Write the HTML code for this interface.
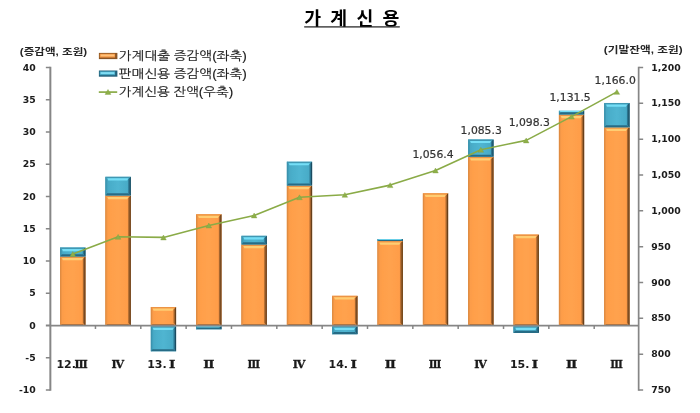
<!DOCTYPE html>
<html lang="ko">
<head>
<meta charset="utf-8">
<title>가계신용</title>
<style>
html,body{margin:0;padding:0;background:#fff;}
body{width:700px;height:413px;overflow:hidden;}
svg{display:block;}
.num{font-family:"DejaVu Sans","Liberation Sans",sans-serif;font-weight:bold;font-size:9.3px;fill:#1a1a1a;}
.cat{font-family:"DejaVu Sans","Liberation Sans",sans-serif;font-weight:bold;font-size:11px;fill:#1a1a1a;}
.rom{font-family:"DejaVu Serif","Liberation Serif",serif;font-weight:bold;stroke:#1a1a1a;stroke-width:0.3px;}
.dl{font-family:"DejaVu Sans","Liberation Sans",sans-serif;font-size:10.2px;fill:#333;stroke:#333;stroke-width:0.2px;}
.ko{font-family:"Liberation Sans","NanumGothic","Noto Sans CJK KR",sans-serif;fill:#1a1a1a;stroke:#1a1a1a;stroke-width:0.15px;}
.kot{font-family:"Liberation Sans","Noto Sans CJK KR","NanumGothic",sans-serif;font-weight:bold;fill:#000;}
.kob{font-family:"Liberation Sans","Noto Sans CJK KR","NanumGothic",sans-serif;font-weight:bold;fill:#262626;}
</style>
</head>
<body>
<svg width="700" height="413" viewBox="0 0 700 413">
<defs>
<linearGradient id="go" x1="0" y1="0" x2="1" y2="0">
<stop offset="0" stop-color="#f99a47"/><stop offset="0.2" stop-color="#ff9f4a"/><stop offset="0.5" stop-color="#ffa24e"/><stop offset="0.85" stop-color="#ff9d49"/><stop offset="1" stop-color="#ee8f40"/>
</linearGradient>
<linearGradient id="gb" x1="0" y1="0" x2="1" y2="0">
<stop offset="0" stop-color="#43a3bf"/><stop offset="0.2" stop-color="#4aaeca"/><stop offset="0.5" stop-color="#50b5d1"/><stop offset="0.85" stop-color="#49acc8"/><stop offset="1" stop-color="#409cb7"/>
</linearGradient>
</defs>
<filter id="soft" x="0" y="0" width="700" height="413" filterUnits="userSpaceOnUse"><feGaussianBlur stdDeviation="0.45"/></filter>
<rect width="700" height="413" fill="#ffffff"/>
<g filter="url(#soft)">

<text class="kot" x="304.2" y="25.0" font-size="18.3" textLength="95.2" lengthAdjust="spacing" xml:space="preserve">가 계 신 용</text>
<rect x="304.2" y="26.3" width="95.6" height="1.2" fill="#1a1a1a"/>
<rect x="60.19" y="256.49" width="25.2" height="69.01" fill="url(#go)"/>
<path d="M60.19 256.49L61.89 258.88V323.10L60.19 325.50Z" fill="#ee9445"/>
<path d="M85.39 256.49L82.89 258.88V323.10L85.39 325.50Z" fill="#a5652e"/>
<path d="M85.39 256.49L84.29 257.56V324.42L85.39 325.50Z" fill="#66401b"/>
<rect x="60.19" y="256.49" width="0.5" height="69.01" fill="#cf7f38"/>
<path d="M60.19 325.50L61.89 324.20H82.89L85.39 325.50Z" fill="#a05f28"/>
<path d="M60.19 256.49L61.89 257.99H82.89L85.39 256.49Z" fill="#ec9445"/>
<path d="M61.99 257.99L62.89 260.19H81.89L83.19 257.99Z" fill="#ffcd72"/>
<rect x="60.19" y="247.45" width="25.2" height="9.03" fill="url(#gb)"/>
<path d="M60.19 247.45L61.89 249.85V254.09L60.19 256.49Z" fill="#3f9ab6"/>
<path d="M85.39 247.45L82.89 249.85V254.09L85.39 256.49Z" fill="#2c7590"/>
<path d="M85.39 247.45L84.29 248.53V255.41L85.39 256.49Z" fill="#1b4c60"/>
<rect x="60.19" y="247.45" width="0.5" height="9.03" fill="#358aa4"/>
<path d="M60.19 256.49L61.89 254.33H82.89L85.39 256.49Z" fill="#286c86"/>
<path d="M60.19 247.45L61.89 248.95H82.89L85.39 247.45Z" fill="#3f98b3"/>
<path d="M61.99 248.95L62.89 251.15H81.89L83.19 248.95Z" fill="#74def6"/>
<rect x="105.53" y="195.53" width="25.2" height="129.97" fill="url(#go)"/>
<path d="M105.53 195.53L107.23 197.93V323.10L105.53 325.50Z" fill="#ee9445"/>
<path d="M130.73 195.53L128.23 197.93V323.10L130.73 325.50Z" fill="#a5652e"/>
<path d="M130.73 195.53L129.63 196.61V324.42L130.73 325.50Z" fill="#66401b"/>
<rect x="105.53" y="195.53" width="0.5" height="129.97" fill="#cf7f38"/>
<path d="M105.53 325.50L107.23 324.20H128.23L130.73 325.50Z" fill="#a05f28"/>
<path d="M105.53 195.53L107.23 197.03H128.23L130.73 195.53Z" fill="#ec9445"/>
<path d="M107.33 197.03L108.23 199.23H127.23L128.53 197.03Z" fill="#ffcd72"/>
<rect x="105.53" y="176.83" width="25.2" height="18.70" fill="url(#gb)"/>
<path d="M105.53 176.83L107.23 179.23V193.13L105.53 195.53Z" fill="#3f9ab6"/>
<path d="M130.73 176.83L128.23 179.23V193.13L130.73 195.53Z" fill="#2c7590"/>
<path d="M130.73 176.83L129.63 177.91V194.45L130.73 195.53Z" fill="#1b4c60"/>
<rect x="105.53" y="176.83" width="0.5" height="18.70" fill="#358aa4"/>
<path d="M105.53 195.53L107.23 193.37H128.23L130.73 195.53Z" fill="#286c86"/>
<path d="M105.53 176.83L107.23 178.33H128.23L130.73 176.83Z" fill="#3f98b3"/>
<path d="M107.33 178.33L108.23 180.53H127.23L128.53 178.33Z" fill="#74def6"/>
<rect x="150.87" y="306.99" width="25.2" height="18.51" fill="url(#go)"/>
<path d="M150.87 306.99L152.57 309.39V323.10L150.87 325.50Z" fill="#ee9445"/>
<path d="M176.07 306.99L173.57 309.39V323.10L176.07 325.50Z" fill="#a5652e"/>
<path d="M176.07 306.99L174.97 308.07V324.42L176.07 325.50Z" fill="#66401b"/>
<rect x="150.87" y="306.99" width="0.5" height="18.51" fill="#cf7f38"/>
<path d="M150.87 325.50L152.57 324.20H173.57L176.07 325.50Z" fill="#a05f28"/>
<path d="M150.87 306.99L152.57 308.49H173.57L176.07 306.99Z" fill="#ec9445"/>
<path d="M152.67 308.49L153.57 310.69H172.57L173.87 308.49Z" fill="#ffcd72"/>
<rect x="150.87" y="326.20" width="25.2" height="25.10" fill="url(#gb)"/>
<path d="M150.87 326.20L152.57 328.60V348.90L150.87 351.30Z" fill="#3f9ab6"/>
<path d="M176.07 326.20L173.57 328.60V348.90L176.07 351.30Z" fill="#2c7590"/>
<path d="M176.07 326.20L174.97 327.28V350.22L176.07 351.30Z" fill="#1b4c60"/>
<rect x="150.87" y="326.20" width="0.5" height="25.10" fill="#358aa4"/>
<path d="M150.87 351.30L152.57 349.14H173.57L176.07 351.30Z" fill="#286c86"/>
<path d="M150.87 326.20L152.57 327.70H173.57L176.07 326.20Z" fill="#3f98b3"/>
<path d="M152.67 327.70L153.57 329.90H172.57L173.87 327.70Z" fill="#74def6"/>
<rect x="196.21" y="214.24" width="25.2" height="111.26" fill="url(#go)"/>
<path d="M196.21 214.24L197.91 216.64V323.10L196.21 325.50Z" fill="#ee9445"/>
<path d="M221.41 214.24L218.91 216.64V323.10L221.41 325.50Z" fill="#a5652e"/>
<path d="M221.41 214.24L220.31 215.32V324.42L221.41 325.50Z" fill="#66401b"/>
<rect x="196.21" y="214.24" width="0.5" height="111.26" fill="#cf7f38"/>
<path d="M196.21 325.50L197.91 324.20H218.91L221.41 325.50Z" fill="#a05f28"/>
<path d="M196.21 214.24L197.91 215.74H218.91L221.41 214.24Z" fill="#ec9445"/>
<path d="M198.01 215.74L198.91 217.94H217.91L219.21 215.74Z" fill="#ffcd72"/>
<rect x="196.21" y="326.20" width="25.2" height="3.17" fill="url(#gb)"/>
<path d="M196.21 326.20L197.91 327.63V327.94L196.21 329.37Z" fill="#3f9ab6"/>
<path d="M221.41 326.20L218.91 327.63V327.94L221.41 329.37Z" fill="#2c7590"/>
<path d="M221.41 326.20L220.31 326.84V328.73L221.41 329.37Z" fill="#1b4c60"/>
<rect x="196.21" y="326.20" width="0.5" height="3.17" fill="#358aa4"/>
<path d="M196.21 329.37L197.91 327.47H218.91L221.41 329.37Z" fill="#286c86"/>
<path d="M196.21 326.20L197.91 327.15H218.91L221.41 326.20Z" fill="#74def6"/>
<rect x="241.55" y="244.49" width="25.2" height="81.01" fill="url(#go)"/>
<path d="M241.55 244.49L243.25 246.89V323.10L241.55 325.50Z" fill="#ee9445"/>
<path d="M266.75 244.49L264.25 246.89V323.10L266.75 325.50Z" fill="#a5652e"/>
<path d="M266.75 244.49L265.65 245.57V324.42L266.75 325.50Z" fill="#66401b"/>
<rect x="241.55" y="244.49" width="0.5" height="81.01" fill="#cf7f38"/>
<path d="M241.55 325.50L243.25 324.20H264.25L266.75 325.50Z" fill="#a05f28"/>
<path d="M241.55 244.49L243.25 245.99H264.25L266.75 244.49Z" fill="#ec9445"/>
<path d="M243.35 245.99L244.25 248.19H263.25L264.55 245.99Z" fill="#ffcd72"/>
<rect x="241.55" y="235.84" width="25.2" height="8.64" fill="url(#gb)"/>
<path d="M241.55 235.84L243.25 238.25V242.09L241.55 244.49Z" fill="#3f9ab6"/>
<path d="M266.75 235.84L264.25 238.25V242.09L266.75 244.49Z" fill="#2c7590"/>
<path d="M266.75 235.84L265.65 236.93V243.41L266.75 244.49Z" fill="#1b4c60"/>
<rect x="241.55" y="235.84" width="0.5" height="8.64" fill="#358aa4"/>
<path d="M241.55 244.49L243.25 242.33H264.25L266.75 244.49Z" fill="#286c86"/>
<path d="M241.55 235.84L243.25 237.34H264.25L266.75 235.84Z" fill="#3f98b3"/>
<path d="M243.35 237.34L244.25 239.54H263.25L264.55 237.34Z" fill="#74def6"/>
<rect x="286.89" y="185.53" width="25.2" height="139.97" fill="url(#go)"/>
<path d="M286.89 185.53L288.59 187.94V323.10L286.89 325.50Z" fill="#ee9445"/>
<path d="M312.09 185.53L309.59 187.94V323.10L312.09 325.50Z" fill="#a5652e"/>
<path d="M312.09 185.53L310.99 186.62V324.42L312.09 325.50Z" fill="#66401b"/>
<rect x="286.89" y="185.53" width="0.5" height="139.97" fill="#cf7f38"/>
<path d="M286.89 325.50L288.59 324.20H309.59L312.09 325.50Z" fill="#a05f28"/>
<path d="M286.89 185.53L288.59 187.03H309.59L312.09 185.53Z" fill="#ec9445"/>
<path d="M288.69 187.03L289.59 189.23H308.59L309.89 187.03Z" fill="#ffcd72"/>
<rect x="286.89" y="161.67" width="25.2" height="23.86" fill="url(#gb)"/>
<path d="M286.89 161.67L288.59 164.07V183.13L286.89 185.53Z" fill="#3f9ab6"/>
<path d="M312.09 161.67L309.59 164.07V183.13L312.09 185.53Z" fill="#2c7590"/>
<path d="M312.09 161.67L310.99 162.75V184.45L312.09 185.53Z" fill="#1b4c60"/>
<rect x="286.89" y="161.67" width="0.5" height="23.86" fill="#358aa4"/>
<path d="M286.89 185.53L288.59 183.38H309.59L312.09 185.53Z" fill="#286c86"/>
<path d="M286.89 161.67L288.59 163.17H309.59L312.09 161.67Z" fill="#3f98b3"/>
<path d="M288.69 163.17L289.59 165.37H308.59L309.89 163.17Z" fill="#74def6"/>
<rect x="332.23" y="295.83" width="25.2" height="29.67" fill="url(#go)"/>
<path d="M332.23 295.83L333.93 298.23V323.10L332.23 325.50Z" fill="#ee9445"/>
<path d="M357.43 295.83L354.93 298.23V323.10L357.43 325.50Z" fill="#a5652e"/>
<path d="M357.43 295.83L356.33 296.91V324.42L357.43 325.50Z" fill="#66401b"/>
<rect x="332.23" y="295.83" width="0.5" height="29.67" fill="#cf7f38"/>
<path d="M332.23 325.50L333.93 324.20H354.93L357.43 325.50Z" fill="#a05f28"/>
<path d="M332.23 295.83L333.93 297.33H354.93L357.43 295.83Z" fill="#ec9445"/>
<path d="M334.03 297.33L334.93 299.53H353.93L355.23 297.33Z" fill="#ffcd72"/>
<rect x="332.23" y="326.20" width="25.2" height="8.07" fill="url(#gb)"/>
<path d="M332.23 326.20L333.93 328.60V331.87L332.23 334.27Z" fill="#3f9ab6"/>
<path d="M357.43 326.20L354.93 328.60V331.87L357.43 334.27Z" fill="#2c7590"/>
<path d="M357.43 326.20L356.33 327.28V333.19L357.43 334.27Z" fill="#1b4c60"/>
<rect x="332.23" y="326.20" width="0.5" height="8.07" fill="#358aa4"/>
<path d="M332.23 334.27L333.93 332.11H354.93L357.43 334.27Z" fill="#286c86"/>
<path d="M332.23 326.20L333.93 327.70H354.93L357.43 326.20Z" fill="#3f98b3"/>
<path d="M334.03 327.70L334.93 329.90H353.93L355.23 327.70Z" fill="#74def6"/>
<rect x="377.57" y="241.00" width="25.2" height="84.50" fill="url(#go)"/>
<path d="M377.57 241.00L379.27 243.41V323.10L377.57 325.50Z" fill="#ee9445"/>
<path d="M402.77 241.00L400.27 243.41V323.10L402.77 325.50Z" fill="#a5652e"/>
<path d="M402.77 241.00L401.67 242.09V324.42L402.77 325.50Z" fill="#66401b"/>
<rect x="377.57" y="241.00" width="0.5" height="84.50" fill="#cf7f38"/>
<path d="M377.57 325.50L379.27 324.20H400.27L402.77 325.50Z" fill="#a05f28"/>
<path d="M377.57 241.00L379.27 242.50H400.27L402.77 241.00Z" fill="#ec9445"/>
<path d="M379.37 242.50L380.27 244.70H399.27L400.57 242.50Z" fill="#ffcd72"/>
<rect x="377.57" y="239.07" width="25.2" height="1.94" fill="url(#gb)"/>
<path d="M377.57 239.07L379.27 239.94V240.13L377.57 241.00Z" fill="#3f9ab6"/>
<path d="M402.77 239.07L400.27 239.94V240.13L402.77 241.00Z" fill="#2c7590"/>
<path d="M402.77 239.07L401.67 239.46V240.61L402.77 241.00Z" fill="#1b4c60"/>
<rect x="377.57" y="239.07" width="0.5" height="1.94" fill="#358aa4"/>
<path d="M377.57 241.00L379.27 239.84H400.27L402.77 241.00Z" fill="#286c86"/>
<path d="M377.57 239.07L379.27 239.65H400.27L402.77 239.07Z" fill="#74def6"/>
<rect x="422.91" y="193.28" width="25.2" height="132.22" fill="url(#go)"/>
<path d="M422.91 193.28L424.61 195.68V323.10L422.91 325.50Z" fill="#ee9445"/>
<path d="M448.11 193.28L445.61 195.68V323.10L448.11 325.50Z" fill="#a5652e"/>
<path d="M448.11 193.28L447.01 194.36V324.42L448.11 325.50Z" fill="#66401b"/>
<rect x="422.91" y="193.28" width="0.5" height="132.22" fill="#cf7f38"/>
<path d="M422.91 325.50L424.61 324.20H445.61L448.11 325.50Z" fill="#a05f28"/>
<path d="M422.91 193.28L424.61 194.78H445.61L448.11 193.28Z" fill="#ec9445"/>
<path d="M424.71 194.78L425.61 196.97H444.61L445.91 194.78Z" fill="#ffcd72"/>
<rect x="468.25" y="156.83" width="25.2" height="168.67" fill="url(#go)"/>
<path d="M468.25 156.83L469.95 159.23V323.10L468.25 325.50Z" fill="#ee9445"/>
<path d="M493.45 156.83L490.95 159.23V323.10L493.45 325.50Z" fill="#a5652e"/>
<path d="M493.45 156.83L492.35 157.91V324.42L493.45 325.50Z" fill="#66401b"/>
<rect x="468.25" y="156.83" width="0.5" height="168.67" fill="#cf7f38"/>
<path d="M468.25 325.50L469.95 324.20H490.95L493.45 325.50Z" fill="#a05f28"/>
<path d="M468.25 156.83L469.95 158.33H490.95L493.45 156.83Z" fill="#ec9445"/>
<path d="M470.05 158.33L470.95 160.53H489.95L491.25 158.33Z" fill="#ffcd72"/>
<rect x="468.25" y="139.42" width="25.2" height="17.41" fill="url(#gb)"/>
<path d="M468.25 139.42L469.95 141.82V154.43L468.25 156.83Z" fill="#3f9ab6"/>
<path d="M493.45 139.42L490.95 141.82V154.43L493.45 156.83Z" fill="#2c7590"/>
<path d="M493.45 139.42L492.35 140.50V155.75L493.45 156.83Z" fill="#1b4c60"/>
<rect x="468.25" y="139.42" width="0.5" height="17.41" fill="#358aa4"/>
<path d="M468.25 156.83L469.95 154.67H490.95L493.45 156.83Z" fill="#286c86"/>
<path d="M468.25 139.42L469.95 140.92H490.95L493.45 139.42Z" fill="#3f98b3"/>
<path d="M470.05 140.92L470.95 143.12H489.95L491.25 140.92Z" fill="#74def6"/>
<rect x="513.59" y="234.56" width="25.2" height="90.94" fill="url(#go)"/>
<path d="M513.59 234.56L515.29 236.96V323.10L513.59 325.50Z" fill="#ee9445"/>
<path d="M538.79 234.56L536.29 236.96V323.10L538.79 325.50Z" fill="#a5652e"/>
<path d="M538.79 234.56L537.69 235.64V324.42L538.79 325.50Z" fill="#66401b"/>
<rect x="513.59" y="234.56" width="0.5" height="90.94" fill="#cf7f38"/>
<path d="M513.59 325.50L515.29 324.20H536.29L538.79 325.50Z" fill="#a05f28"/>
<path d="M513.59 234.56L515.29 236.06H536.29L538.79 234.56Z" fill="#ec9445"/>
<path d="M515.39 236.06L516.29 238.25H535.29L536.59 236.06Z" fill="#ffcd72"/>
<rect x="513.59" y="326.20" width="25.2" height="6.78" fill="url(#gb)"/>
<path d="M513.59 326.20L515.29 328.60V330.58L513.59 332.98Z" fill="#3f9ab6"/>
<path d="M538.79 326.20L536.29 328.60V330.58L538.79 332.98Z" fill="#2c7590"/>
<path d="M538.79 326.20L537.69 327.28V331.90L538.79 332.98Z" fill="#1b4c60"/>
<rect x="513.59" y="326.20" width="0.5" height="6.78" fill="#358aa4"/>
<path d="M513.59 332.98L515.29 330.82H536.29L538.79 332.98Z" fill="#286c86"/>
<path d="M513.59 326.20L515.29 327.70H536.29L538.79 326.20Z" fill="#3f98b3"/>
<path d="M515.39 327.70L516.29 329.90H535.29L536.59 327.70Z" fill="#74def6"/>
<rect x="558.93" y="114.58" width="25.2" height="210.92" fill="url(#go)"/>
<path d="M558.93 114.58L560.63 116.98V323.10L558.93 325.50Z" fill="#ee9445"/>
<path d="M584.13 114.58L581.63 116.98V323.10L584.13 325.50Z" fill="#a5652e"/>
<path d="M584.13 114.58L583.03 115.66V324.42L584.13 325.50Z" fill="#66401b"/>
<rect x="558.93" y="114.58" width="0.5" height="210.92" fill="#cf7f38"/>
<path d="M558.93 325.50L560.63 324.20H581.63L584.13 325.50Z" fill="#a05f28"/>
<path d="M558.93 114.58L560.63 116.08H581.63L584.13 114.58Z" fill="#ec9445"/>
<path d="M560.73 116.08L561.63 118.28H580.63L581.93 116.08Z" fill="#ffcd72"/>
<rect x="558.93" y="110.71" width="25.2" height="3.87" fill="url(#gb)"/>
<path d="M558.93 110.71L560.63 112.46V112.84L558.93 114.58Z" fill="#3f9ab6"/>
<path d="M584.13 110.71L581.63 112.46V112.84L584.13 114.58Z" fill="#2c7590"/>
<path d="M584.13 110.71L583.03 111.50V113.80L584.13 114.58Z" fill="#1b4c60"/>
<rect x="558.93" y="110.71" width="0.5" height="3.87" fill="#358aa4"/>
<path d="M558.93 114.58L560.63 112.26H581.63L584.13 114.58Z" fill="#286c86"/>
<path d="M558.93 110.71L560.63 111.88H581.63L584.13 110.71Z" fill="#74def6"/>
<rect x="604.27" y="127.36" width="25.2" height="198.14" fill="url(#go)"/>
<path d="M604.27 127.36L605.97 129.76V323.10L604.27 325.50Z" fill="#ee9445"/>
<path d="M629.47 127.36L626.97 129.76V323.10L629.47 325.50Z" fill="#a5652e"/>
<path d="M629.47 127.36L628.37 128.44V324.42L629.47 325.50Z" fill="#66401b"/>
<rect x="604.27" y="127.36" width="0.5" height="198.14" fill="#cf7f38"/>
<path d="M604.27 325.50L605.97 324.20H626.97L629.47 325.50Z" fill="#a05f28"/>
<path d="M604.27 127.36L605.97 128.86H626.97L629.47 127.36Z" fill="#ec9445"/>
<path d="M606.07 128.86L606.97 131.06H625.97L627.27 128.86Z" fill="#ffcd72"/>
<rect x="604.27" y="102.97" width="25.2" height="24.38" fill="url(#gb)"/>
<path d="M604.27 102.97L605.97 105.38V124.96L604.27 127.36Z" fill="#3f9ab6"/>
<path d="M629.47 102.97L626.97 105.38V124.96L629.47 127.36Z" fill="#2c7590"/>
<path d="M629.47 102.97L628.37 104.05V126.28L629.47 127.36Z" fill="#1b4c60"/>
<rect x="604.27" y="102.97" width="0.5" height="24.38" fill="#358aa4"/>
<path d="M604.27 127.36L605.97 125.20H626.97L629.47 127.36Z" fill="#286c86"/>
<path d="M604.27 102.97L605.97 104.47H626.97L629.47 102.97Z" fill="#3f98b3"/>
<path d="M606.07 104.47L606.97 106.67H625.97L627.27 104.47Z" fill="#74def6"/>
<g stroke="#868686" stroke-width="2.0" fill="none">
<path d="M45.85 325.50H50.35"/>
<path d="M50.35 325.60H638.65" stroke-width="1.6"/>
<path d="M50.35 66.70V390.80"/>
<path d="M638.65 66.70V390.80" stroke-width="1.7"/>
<path d="M45.85 67.50H50.35M45.85 99.75H50.35M45.85 132.00H50.35M45.85 164.25H50.35M45.85 196.50H50.35M45.85 228.75H50.35M45.85 261.00H50.35M45.85 293.25H50.35M45.85 357.75H50.35M45.85 390.00H50.35M638.65 67.50H643.15M638.65 103.33H643.15M638.65 139.17H643.15M638.65 175.00H643.15M638.65 210.83H643.15M638.65 246.67H643.15M638.65 282.50H643.15M638.65 318.33H643.15M638.65 354.17H643.15M638.65 390.00H643.15M95.46 325.50V329.00M140.80 325.50V329.00M186.14 325.50V329.00M231.48 325.50V329.00M276.82 325.50V329.00M322.16 325.50V329.00M367.50 325.50V329.00M412.84 325.50V329.00M458.18 325.50V329.00M503.52 325.50V329.00M548.86 325.50V329.00M594.20 325.50V329.00" stroke-width="1.5"/>
</g>
<text class="num" x="35.7" y="70.65" text-anchor="end">40</text>
<text class="num" x="35.7" y="102.90" text-anchor="end">35</text>
<text class="num" x="35.7" y="135.15" text-anchor="end">30</text>
<text class="num" x="35.7" y="167.40" text-anchor="end">25</text>
<text class="num" x="35.7" y="199.65" text-anchor="end">20</text>
<text class="num" x="35.7" y="231.90" text-anchor="end">15</text>
<text class="num" x="35.7" y="264.15" text-anchor="end">10</text>
<text class="num" x="35.7" y="296.40" text-anchor="end">5</text>
<text class="num" x="35.7" y="328.65" text-anchor="end">0</text>
<text class="num" x="35.7" y="360.90" text-anchor="end">-5</text>
<text class="num" x="35.7" y="393.15" text-anchor="end">-10</text>
<text class="num" x="651.2" y="70.65">1,200</text>
<text class="num" x="651.2" y="106.48">1,150</text>
<text class="num" x="651.2" y="142.32">1,100</text>
<text class="num" x="651.2" y="178.15">1,050</text>
<text class="num" x="651.2" y="213.98">1,000</text>
<text class="num" x="651.2" y="249.82">950</text>
<text class="num" x="651.2" y="285.65">900</text>
<text class="num" x="651.2" y="321.48">850</text>
<text class="num" x="651.2" y="357.32">800</text>
<text class="num" x="651.2" y="393.15">750</text>
<text class="cat" x="56.39" y="368.1">12.</text>
<text class="cat rom" x="74.49" y="368.1" textLength="13.2" lengthAdjust="spacingAndGlyphs">Ⅲ</text>
<text class="cat rom" x="111.53" y="368.1" textLength="12.6" lengthAdjust="spacingAndGlyphs">Ⅳ</text>
<text class="cat" x="147.17" y="368.1">13.</text>
<text class="cat rom" x="169.07" y="368.1" textLength="6.4" lengthAdjust="spacingAndGlyphs">Ⅰ</text>
<text class="cat rom" x="203.31" y="368.1" textLength="11.2" lengthAdjust="spacingAndGlyphs">Ⅱ</text>
<text class="cat rom" x="247.45" y="368.1" textLength="12.6" lengthAdjust="spacingAndGlyphs">Ⅲ</text>
<text class="cat rom" x="292.89" y="368.1" textLength="12.6" lengthAdjust="spacingAndGlyphs">Ⅳ</text>
<text class="cat" x="328.53" y="368.1">14.</text>
<text class="cat rom" x="350.43" y="368.1" textLength="6.4" lengthAdjust="spacingAndGlyphs">Ⅰ</text>
<text class="cat rom" x="384.67" y="368.1" textLength="11.2" lengthAdjust="spacingAndGlyphs">Ⅱ</text>
<text class="cat rom" x="428.81" y="368.1" textLength="12.6" lengthAdjust="spacingAndGlyphs">Ⅲ</text>
<text class="cat rom" x="474.25" y="368.1" textLength="12.6" lengthAdjust="spacingAndGlyphs">Ⅳ</text>
<text class="cat" x="509.89" y="368.1">15.</text>
<text class="cat rom" x="531.79" y="368.1" textLength="6.4" lengthAdjust="spacingAndGlyphs">Ⅰ</text>
<text class="cat rom" x="566.03" y="368.1" textLength="11.2" lengthAdjust="spacingAndGlyphs">Ⅱ</text>
<text class="cat rom" x="610.17" y="368.1" textLength="12.6" lengthAdjust="spacingAndGlyphs">Ⅲ</text>
<polyline points="72.79,253.98 118.13,236.78 163.47,237.42 208.81,225.45 254.15,215.42 299.49,197.22 344.83,194.78 390.17,185.10 435.51,170.41 480.85,149.70 526.19,140.39 571.53,116.59 616.87,91.87" fill="none" stroke="#8aab47" stroke-width="1.6" stroke-linejoin="round"/>
<path d="M72.79 251.58L75.59 256.48H69.99Z" fill="#8fb04a" stroke="#7f9f3f" stroke-width="0.4"/>
<path d="M118.13 234.38L120.93 239.28H115.33Z" fill="#8fb04a" stroke="#7f9f3f" stroke-width="0.4"/>
<path d="M163.47 235.02L166.27 239.92H160.67Z" fill="#8fb04a" stroke="#7f9f3f" stroke-width="0.4"/>
<path d="M208.81 223.05L211.61 227.95H206.01Z" fill="#8fb04a" stroke="#7f9f3f" stroke-width="0.4"/>
<path d="M254.15 213.02L256.95 217.92H251.35Z" fill="#8fb04a" stroke="#7f9f3f" stroke-width="0.4"/>
<path d="M299.49 194.82L302.29 199.72H296.69Z" fill="#8fb04a" stroke="#7f9f3f" stroke-width="0.4"/>
<path d="M344.83 192.38L347.63 197.28H342.03Z" fill="#8fb04a" stroke="#7f9f3f" stroke-width="0.4"/>
<path d="M390.17 182.70L392.97 187.60H387.37Z" fill="#8fb04a" stroke="#7f9f3f" stroke-width="0.4"/>
<path d="M435.51 168.01L438.31 172.91H432.71Z" fill="#8fb04a" stroke="#7f9f3f" stroke-width="0.4"/>
<path d="M480.85 147.30L483.65 152.20H478.05Z" fill="#8fb04a" stroke="#7f9f3f" stroke-width="0.4"/>
<path d="M526.19 137.99L528.99 142.89H523.39Z" fill="#8fb04a" stroke="#7f9f3f" stroke-width="0.4"/>
<path d="M571.53 114.19L574.33 119.09H568.73Z" fill="#8fb04a" stroke="#7f9f3f" stroke-width="0.4"/>
<path d="M616.87 89.47L619.67 94.37H614.07Z" fill="#8fb04a" stroke="#7f9f3f" stroke-width="0.4"/>
<text class="dl" x="412.40" y="157.60" textLength="41.2" lengthAdjust="spacingAndGlyphs">1,056.4</text>
<text class="dl" x="460.60" y="134.30" textLength="41.2" lengthAdjust="spacingAndGlyphs">1,085.3</text>
<text class="dl" x="508.70" y="126.10" textLength="41.2" lengthAdjust="spacingAndGlyphs">1,098.3</text>
<text class="dl" x="549.50" y="101.40" textLength="41.2" lengthAdjust="spacingAndGlyphs">1,131.5</text>
<text class="dl" x="594.60" y="83.90" textLength="41.2" lengthAdjust="spacingAndGlyphs">1,166.0</text>
<text class="kob" x="19.8" y="55.2" font-size="8.7" textLength="67.4" lengthAdjust="spacingAndGlyphs">(증감액, 조원)</text>
<text class="kob" x="603.8" y="53.4" font-size="8.7" textLength="78.8" lengthAdjust="spacingAndGlyphs">(기말잔액, 조원)</text>
<rect x="98.9" y="52.90" width="18.5" height="6.2" fill="#8a5425"/>
<rect x="99.7" y="53.70" width="15.4" height="3.9" fill="#f0923f"/>
<rect x="100.6" y="54.50" width="13.8" height="1.9" fill="#ffc27a"/>
<rect x="98.9" y="70.50" width="18.5" height="6.2" fill="#23607a"/>
<rect x="99.7" y="71.30" width="15.4" height="3.9" fill="#45a6c2"/>
<rect x="100.6" y="72.10" width="13.8" height="1.9" fill="#7fdcf3"/>
<path d="M98.8 92.1H117.2" stroke="#8aab47" stroke-width="1.7"/>
<path d="M108 89.5L110.9 94.4H105.1Z" fill="#8fb04a" stroke="#7f9f3f" stroke-width="0.4"/>
<text class="ko" x="118.8" y="60.1" font-size="12" textLength="128" lengthAdjust="spacingAndGlyphs">가계대출 증감액(좌축)</text>
<text class="ko" x="118.8" y="77.9" font-size="12" textLength="128" lengthAdjust="spacingAndGlyphs">판매신용 증감액(좌축)</text>
<text class="ko" x="118.8" y="95.9" font-size="12" textLength="114.5" lengthAdjust="spacingAndGlyphs">가계신용 잔액(우축)</text>
</g>
</svg>
</body>
</html>
